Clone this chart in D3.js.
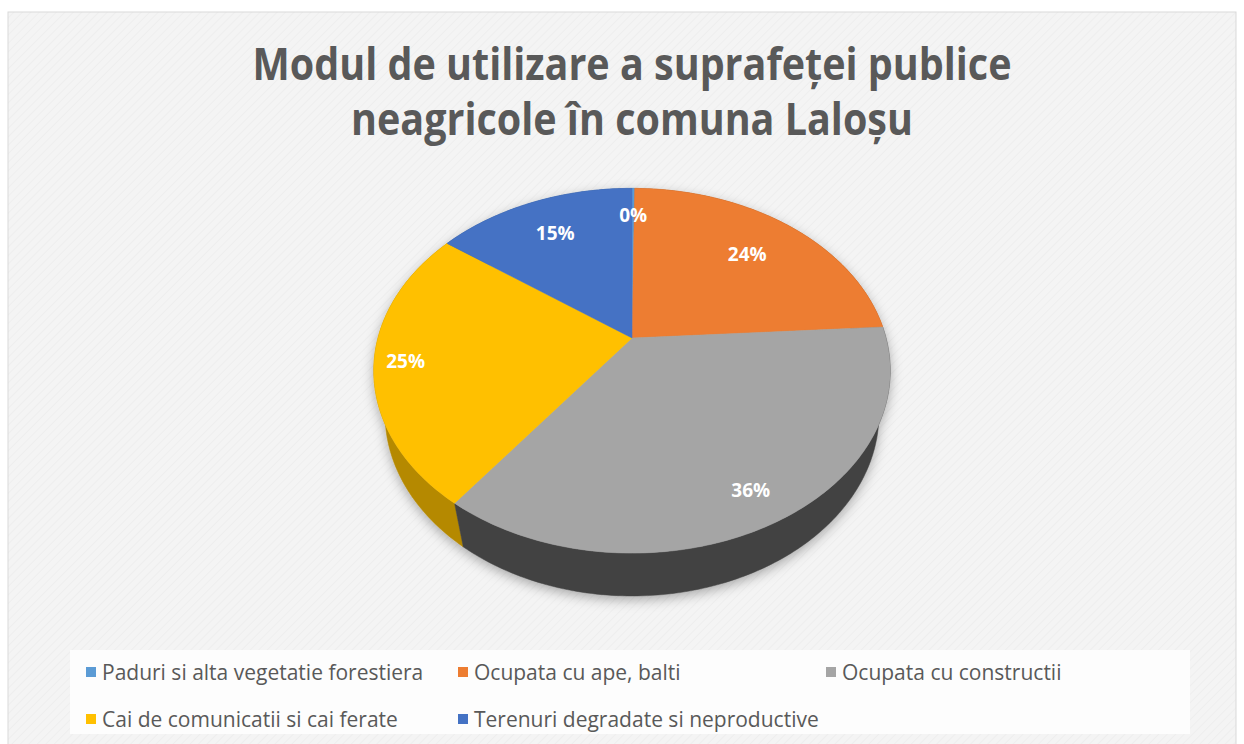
<!DOCTYPE html>
<html>
<head>
<meta charset="utf-8">
<script src="https://cdn.jsdelivr.net/npm/d3@7"></script>
<style>
  body { margin: 0; background: #ffffff; }
  svg { display: block; }
</style>
</head>
<body>
<div id="chart"></div>
<script>
// data
var titleLines = ["Modul de utilizare a suprafeței publice", "neagricole în comuna Laloșu"];
var categories = [
    "Paduri si alta vegetatie forestiera",
    "Ocupata cu ape, balti",
    "Ocupata cu constructii",
    "Cai de comunicatii si cai ferate",
    "Terenuri degradate si neproductive"
];
var values = [0.2, 23.8, 36.2, 24.9, 14.9];

// styles
var topColors = ["#5B9BD5", "#ED7D31", "#A5A5A5", "#FFC000", "#4472C4"];
var sideColors = ["#3d6f9c", "#a9541c", "#424242", "#b58900", "#2d5291"];
var labelRadius = [0.8, 0.72, 0.85, 0.88, 0.75];

var width = 1244;
var height = 744;

var svg = d3.select('#chart')
    .append('svg')
    .attr('width', width)
    .attr('height', height);

var defs = svg.append('defs');

var pat = defs.append('pattern')
    .attr('id', 'bgpat')
    .attr('width', 6)
    .attr('height', 6)
    .attr('patternUnits', 'userSpaceOnUse')
    .attr('patternTransform', 'rotate(45)');
pat.append('rect').attr('width', 6).attr('height', 6).attr('fill', '#f4f4f4');
pat.append('line')
    .attr('x1', 0).attr('y1', 0).attr('x2', 0).attr('y2', 6)
    .attr('stroke', '#ededed').attr('stroke-width', 1.5);

var shadow = defs.append('filter')
    .attr('id', 'shadow')
    .attr('x', '-20%').attr('y', '-20%')
    .attr('width', '140%').attr('height', '150%');
shadow.append('feDropShadow')
    .attr('dx', 0).attr('dy', 4)
    .attr('stdDeviation', 6)
    .attr('flood-color', '#000')
    .attr('flood-opacity', 0.3);

// background + border
svg.append('rect')
    .attr('x', 8).attr('y', 12)
    .attr('width', 1228).attr('height', 745)
    .attr('fill', 'url(#bgpat)')
    .attr('stroke', '#d9d9d9')
    .attr('stroke-width', 1);

// title
var title = svg.append('g')
    .attr('font-family', "'Open Sans', sans-serif")
    .attr('font-weight', 'bold')
    .attr('font-size', 44)
    .attr('fill', '#595959')
    .attr('text-anchor', 'middle');

var titleText = title.selectAll('text')
    .data(titleLines)
    .enter()
    .append('text')
    .attr('x', 632)
    .attr('y', function (d, i) { return 80 + i * 55; })
    .text(function (d) { return d; });

// squeeze to a Calibri-like width
var natural = titleText.nodes()[0].getComputedTextLength();
var squeeze = 759 / natural;
titleText.each(function () {
    var w = this.getComputedTextLength();
    d3.select(this)
        .attr('textLength', w * squeeze)
        .attr('lengthAdjust', 'spacingAndGlyphs');
});

// 3D pie projection
var cx = 632, cy = 338;
var tilt = 44 * Math.PI / 180;
var sinT = Math.sin(tilt), cosT = Math.cos(tilt);
var dist = 4.007, focal = 1018, depth3d = 0.255;

function project(theta, r, y) {
    var X = r * Math.sin(theta);
    var Z = r * Math.cos(theta);
    var u = Z * sinT + y * cosT;
    var dz = dist + Z * cosT - y * sinT;
    return [cx + focal * X / dz, cy - focal * u / dz];
}

function rim(a0, a1, y) {
    var n = Math.max(2, Math.ceil((a1 - a0) / (Math.PI / 180)));
    return d3.range(n + 1).map(function (k) {
        return project(a0 + (a1 - a0) * k / n, 1, y);
    });
}

var pie = d3.pie()
    .value(function (d) { return d; })
    .sort(null)
    .startAngle(0)
    .endAngle(2 * Math.PI);

var arcs = pie(values);
var total = d3.sum(values);
var line = d3.line().curve(d3.curveLinear);

var pieGroup = svg.append('g').attr('filter', 'url(#shadow)');

// outer walls, far ones first
var walls = arcs.slice().sort(function (a, b) {
    return Math.cos((b.startAngle + b.endAngle) / 2) - Math.cos((a.startAngle + a.endAngle) / 2);
});

pieGroup.selectAll('path.wall')
    .data(walls)
    .enter()
    .append('path')
    .attr('class', 'wall')
    .attr('d', function (d) {
        var top = rim(d.startAngle, d.endAngle, 0);
        var bottom = rim(d.startAngle, d.endAngle, -depth3d).reverse();
        return line(top.concat(bottom)) + 'Z';
    })
    .attr('fill', function (d) { return sideColors[d.index]; })
    .attr('stroke', function (d) { return sideColors[d.index]; })
    .attr('stroke-width', 0.5);

// top faces
pieGroup.selectAll('path.top')
    .data(arcs)
    .enter()
    .append('path')
    .attr('class', 'top')
    .attr('d', function (d) {
        var pts = [project(0, 0, 0)].concat(rim(d.startAngle, d.endAngle, 0));
        return line(pts) + 'Z';
    })
    .attr('fill', function (d) { return topColors[d.index]; })
    .attr('stroke', function (d) { return topColors[d.index]; })
    .attr('stroke-width', 0.5);

// data labels
svg.append('g')
    .selectAll('text')
    .data(arcs)
    .enter()
    .append('text')
    .attr('transform', function (d) {
        var p = project((d.startAngle + d.endAngle) / 2, labelRadius[d.index], 0);
        return 'translate(' + p[0] + ',' + p[1] + ')';
    })
    .attr('text-anchor', 'middle')
    .attr('dominant-baseline', 'central')
    .attr('font-family', "'Open Sans', sans-serif")
    .attr('font-weight', 'bold')
    .attr('font-size', 19)
    .attr('fill', '#ffffff')
    .text(function (d) {
        return Math.round(d.value / total * 100) + '%';
    });

// legend
svg.append('rect')
    .attr('x', 70).attr('y', 650)
    .attr('width', 1120).attr('height', 84)
    .attr('fill', '#fdfdfd');

var legendCols = [86, 458, 826];
var legendRows = [672, 719];

var legend = svg.selectAll('.legend')
    .data(categories)
    .enter()
    .append('g')
    .attr('class', 'legend')
    .attr('transform', function (d, i) {
        return 'translate(' + legendCols[i % 3] + ',' + legendRows[Math.floor(i / 3)] + ')';
    });

legend.append('rect')
    .attr('x', 0)
    .attr('y', -5)
    .attr('width', 10)
    .attr('height', 10)
    .attr('fill', function (d, i) { return topColors[i]; });

legend.append('text')
    .attr('x', 16)
    .attr('y', 0)
    .attr('dominant-baseline', 'central')
    .attr('font-family', "'Open Sans', sans-serif")
    .attr('font-size', 21)
    .attr('fill', '#595959')
    .text(function (d) { return d; });
</script>
</body>
</html>
